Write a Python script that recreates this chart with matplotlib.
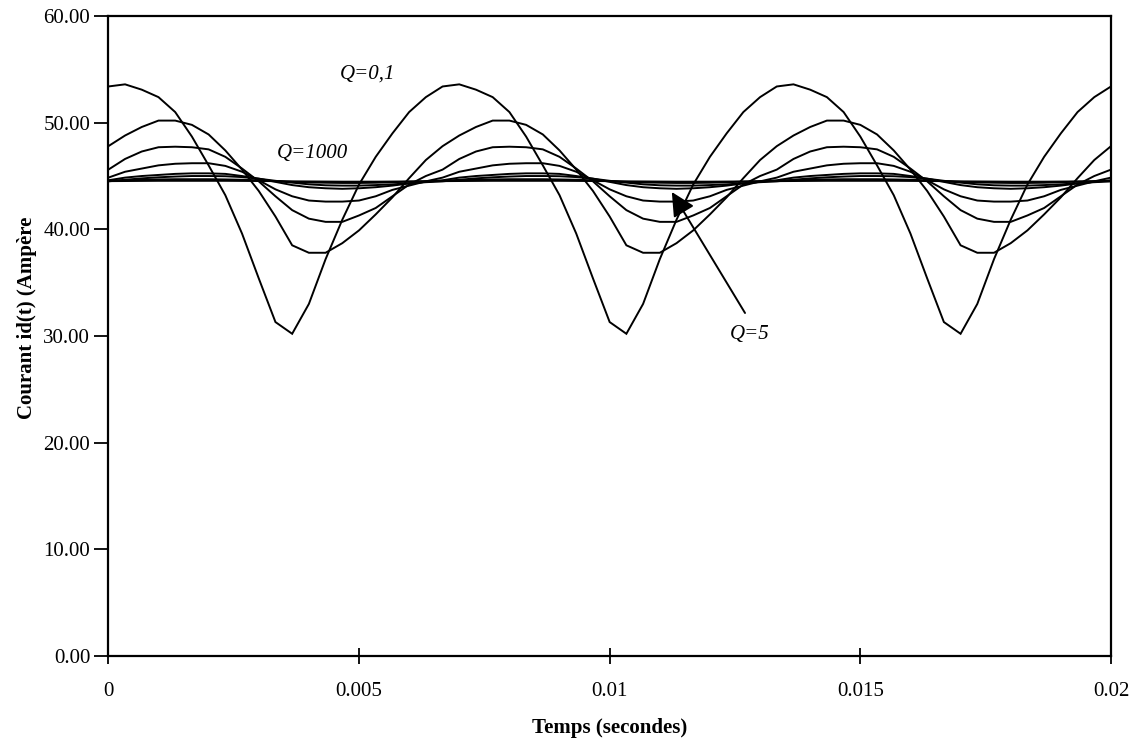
import numpy as np
import matplotlib
matplotlib.use('Agg')
import matplotlib.pyplot as plt

# time grid of the simulation (61 samples over 0.02 s)
temps = np.linspace(0, 0.02, 61)

# courant id(t), one list per value of Q
id_q01 = [53.4, 53.6, 53.1, 52.4, 51.0, 48.7, 46.0, 43.2, 39.6, 35.4, 31.3, 30.2, 33.0, 37.2, 40.9, 44.2, 46.8, 49.0, 51.0, 52.4,
          53.4, 53.6, 53.1, 52.4, 51.0, 48.7, 46.0, 43.2, 39.6, 35.4, 31.3, 30.2, 33.0, 37.2, 40.9, 44.2, 46.8, 49.0, 51.0, 52.4,
          53.4, 53.6, 53.1, 52.4, 51.0, 48.7, 46.0, 43.2, 39.6, 35.4, 31.3, 30.2, 33.0, 37.2, 40.9, 44.2, 46.8, 49.0, 51.0, 52.4,
          53.4]
id_c2 = [47.8, 48.8, 49.6, 50.2, 50.2, 49.8, 48.9, 47.4, 45.6, 43.6, 41.2, 38.5, 37.8, 37.8, 38.7, 39.9, 41.4, 43.0, 44.8, 46.5,
         47.8, 48.8, 49.6, 50.2, 50.2, 49.8, 48.9, 47.4, 45.6, 43.6, 41.2, 38.5, 37.8, 37.8, 38.7, 39.9, 41.4, 43.0, 44.8, 46.5,
         47.8, 48.8, 49.6, 50.2, 50.2, 49.8, 48.9, 47.4, 45.6, 43.6, 41.2, 38.5, 37.8, 37.8, 38.7, 39.9, 41.4, 43.0, 44.8, 46.5,
         47.8]
id_c3 = [45.6, 46.6, 47.3, 47.7, 47.75, 47.7, 47.5, 46.8, 45.7, 44.5, 43.1, 41.8, 41.0, 40.7, 40.7, 41.3, 42.0, 43.1, 44.2, 45.0,
         45.6, 46.6, 47.3, 47.7, 47.75, 47.7, 47.5, 46.8, 45.7, 44.5, 43.1, 41.8, 41.0, 40.7, 40.7, 41.3, 42.0, 43.1, 44.2, 45.0,
         45.6, 46.6, 47.3, 47.7, 47.75, 47.7, 47.5, 46.8, 45.7, 44.5, 43.1, 41.8, 41.0, 40.7, 40.7, 41.3, 42.0, 43.1, 44.2, 45.0,
         45.6]
id_c4 = [44.85, 45.4, 45.7, 46.0, 46.15, 46.2, 46.2, 45.95, 45.4, 44.6, 43.75, 43.1, 42.7, 42.6, 42.6, 42.7, 43.1, 43.7, 44.1, 44.5,
         44.85, 45.4, 45.7, 46.0, 46.15, 46.2, 46.2, 45.95, 45.4, 44.6, 43.75, 43.1, 42.7, 42.6, 42.6, 42.7, 43.1, 43.7, 44.1, 44.5,
         44.85, 45.4, 45.7, 46.0, 46.15, 46.2, 46.2, 45.95, 45.4, 44.6, 43.75, 43.1, 42.7, 42.6, 42.6, 42.7, 43.1, 43.7, 44.1, 44.5,
         44.85]
id_c5 = [44.6, 44.85, 45.0, 45.1, 45.2, 45.25, 45.25, 45.2, 45.0, 44.75, 44.45, 44.15, 43.95, 43.85, 43.8, 43.85, 43.95, 44.1, 44.3, 44.45,
         44.6, 44.85, 45.0, 45.1, 45.2, 45.25, 45.25, 45.2, 45.0, 44.75, 44.45, 44.15, 43.95, 43.85, 43.8, 43.85, 43.95, 44.1, 44.3, 44.45,
         44.6, 44.85, 45.0, 45.1, 45.2, 45.25, 45.25, 45.2, 45.0, 44.75, 44.45, 44.15, 43.95, 43.85, 43.8, 43.85, 43.95, 44.1, 44.3, 44.45,
         44.6]
id_c6 = [44.5, 44.65, 44.78, 44.88, 44.95, 45.0, 45.0, 44.98, 44.9, 44.75, 44.55, 44.38, 44.22, 44.13, 44.1, 44.1, 44.15, 44.22, 44.32, 44.42,
         44.5, 44.65, 44.78, 44.88, 44.95, 45.0, 45.0, 44.98, 44.9, 44.75, 44.55, 44.38, 44.22, 44.13, 44.1, 44.1, 44.15, 44.22, 44.32, 44.42,
         44.5, 44.65, 44.78, 44.88, 44.95, 45.0, 45.0, 44.98, 44.9, 44.75, 44.55, 44.38, 44.22, 44.13, 44.1, 44.1, 44.15, 44.22, 44.32, 44.42,
         44.5]
id_c7 = [44.55, 44.6, 44.65, 44.68, 44.7, 44.7, 44.7, 44.68, 44.65, 44.6, 44.52, 44.45, 44.4, 44.37, 44.35, 44.35, 44.37, 44.42, 44.47, 44.52,
         44.55, 44.6, 44.65, 44.68, 44.7, 44.7, 44.7, 44.68, 44.65, 44.6, 44.52, 44.45, 44.4, 44.37, 44.35, 44.35, 44.37, 44.42, 44.47, 44.52,
         44.55, 44.6, 44.65, 44.68, 44.7, 44.7, 44.7, 44.68, 44.65, 44.6, 44.52, 44.45, 44.4, 44.37, 44.35, 44.35, 44.37, 44.42, 44.47, 44.52,
         44.55]
id_q1000 = [44.52, 44.53, 44.54, 44.55, 44.55, 44.55, 44.55, 44.55, 44.54, 44.53, 44.52, 44.5, 44.49, 44.48, 44.47, 44.47, 44.47, 44.48, 44.49, 44.5,
            44.52, 44.53, 44.54, 44.55, 44.55, 44.55, 44.55, 44.55, 44.54, 44.53, 44.52, 44.5, 44.49, 44.48, 44.47, 44.47, 44.47, 44.48, 44.49, 44.5,
            44.52, 44.53, 44.54, 44.55, 44.55, 44.55, 44.55, 44.55, 44.54, 44.53, 44.52, 44.5, 44.49, 44.48, 44.47, 44.47, 44.47, 44.48, 44.49, 44.5,
            44.52]

courbes = [id_q01, id_c2, id_c3, id_c4, id_c5, id_c6, id_c7, id_q1000]

x_ticks = [0, 0.005, 0.01, 0.015, 0.02]
x_labels = ['0', '0.005', '0.01', '0.015', '0.02']
y_ticks = [0, 10, 20, 30, 40, 50, 60]

plt.rcParams['font.family'] = ['Liberation Serif', 'DejaVu Serif']

fig = plt.figure(figsize=(11.31, 7.43), dpi=100)
ax = fig.add_axes([0.0958, 0.1175, 0.8865, 0.8608])

for courbe in courbes:
    ax.plot(temps, courbe, color='black', lw=1.4, solid_joinstyle='miter')

ax.set_xlim(0, 0.02)
ax.set_ylim(0, 60)
ax.set_xticks(x_ticks)
ax.set_xticklabels(x_labels)
ax.set_yticks(y_ticks)
ax.set_yticklabels(['{0:.2f}'.format(v) for v in y_ticks])
ax.tick_params(axis='x', direction='inout', length=12, width=1.3, pad=13, labelsize=15)
ax.tick_params(axis='y', direction='out', length=10, width=1.3, pad=3, labelsize=15)
for sp in ax.spines.values():
    sp.set_linewidth(1.6)

ax.set_xlabel('Temps (secondes)', fontsize=15, fontweight='bold', labelpad=12)
fig.text(0.0243, 1 - 318 / 743, 'Courant id(t) (Ampère', rotation=90,
         ha='center', va='center', fontsize=15, fontweight='bold')

# annotations
ax.text(0.00462, 54.6, 'Q=0,1', fontsize=15, style='italic', va='center')
ax.text(0.00337, 47.1, 'Q=1000', fontsize=15, style='italic', va='center')
ax.text(0.0124, 30.1, 'Q=5', fontsize=15, style='italic', va='center')
ax.annotate('', xy=(0.01124, 43.5), xytext=(0.0127, 32.15),
            arrowprops=dict(arrowstyle='-|>,head_length=0.5,head_width=0.25',
                            color='black', lw=1.4, mutation_scale=29,
                            shrinkA=0, shrinkB=0))

fig.savefig('out.png', dpi=100)
